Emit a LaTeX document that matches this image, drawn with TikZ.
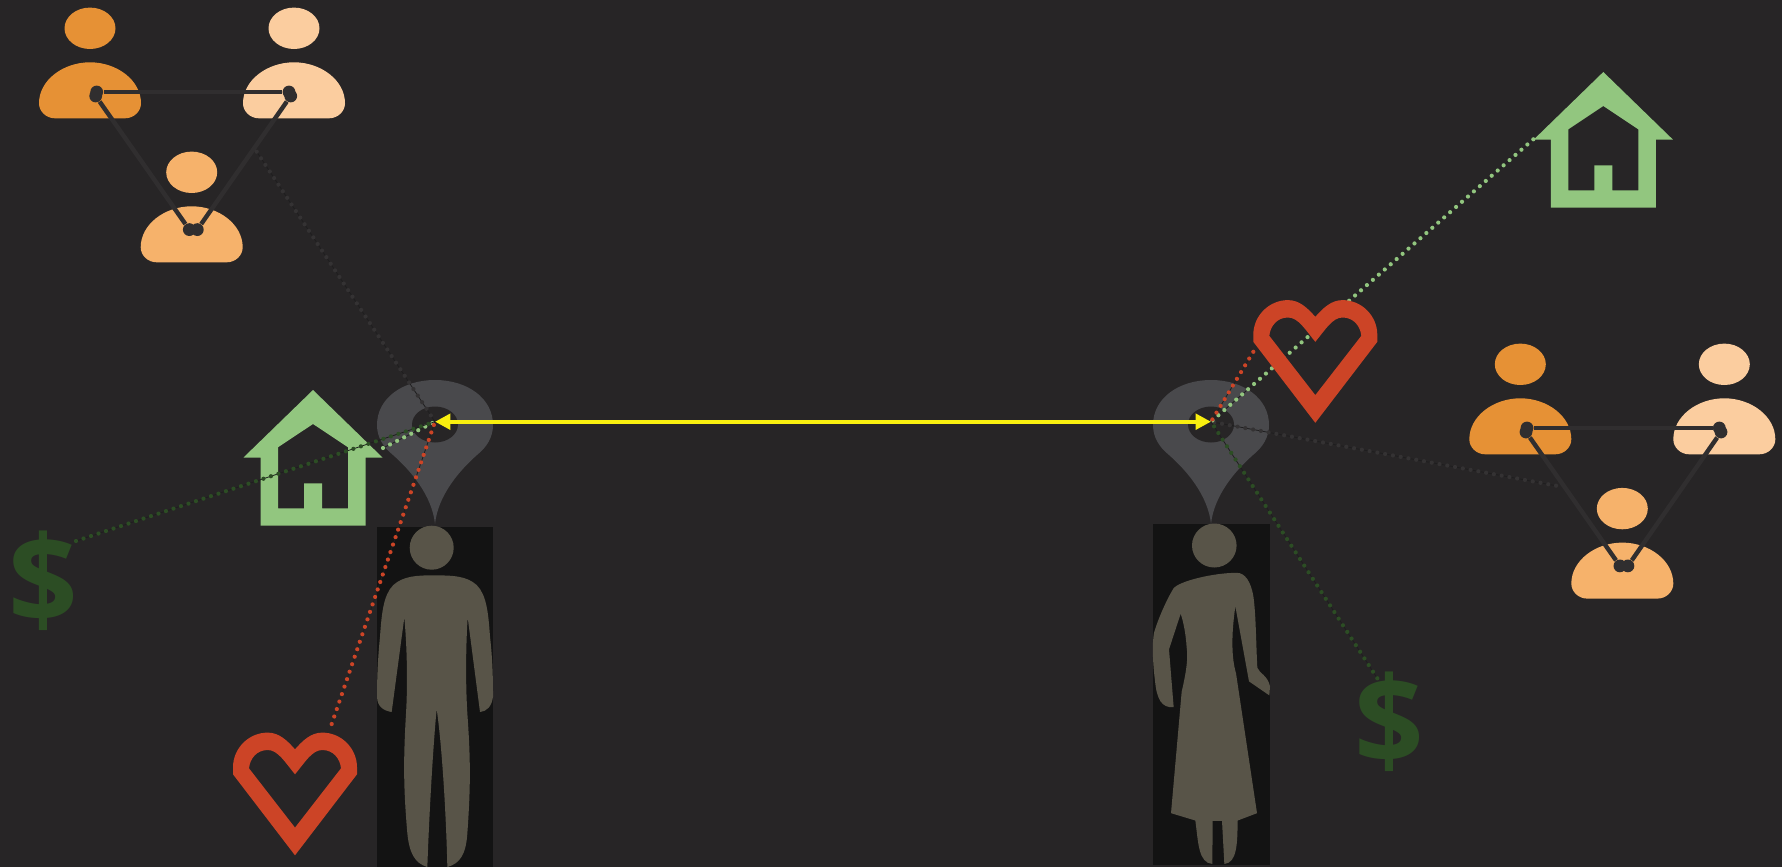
\documentclass[tikz,border=0pt]{standalone}
\usepackage{fontspec}
\newfontfamily\dollarfont{Open Sans}[Scale=1]
\usetikzlibrary{arrows.meta,calc}
\definecolor{bgc}{HTML}{272526}
\definecolor{pinc}{HTML}{49494C}
\definecolor{rectc}{HTML}{131313}
\definecolor{figc}{HTML}{585448}
\definecolor{pa}{HTML}{E69135}
\definecolor{pb}{HTML}{FBCD9F}
\definecolor{pc}{HTML}{F6B26B}
\definecolor{trio}{HTML}{302E2F}
\definecolor{housec}{HTML}{92C67F}
\definecolor{heartc}{HTML}{CC4426}
\definecolor{moneyc}{HTML}{2C4D24}
\definecolor{grayd}{HTML}{343233}
\definecolor{thinc}{HTML}{1F1E1F}
\definecolor{yel}{HTML}{F9EF0F}
\tikzset{
  dotc/.style={draw=#1,line width=2.1pt,line cap=round,dash pattern=on 0pt off 3.95pt,
    preaction={draw=thinc,line width=0.4pt,solid,line cap=butt}},
  triodot/.style={circle,fill=trio,inner sep=0pt,minimum size=6.4pt},
  trioline/.style={draw=trio,line width=2.2pt},
  moneysign/.style={text=moneyc,inner sep=0pt,font=\dollarfont\bfseries\fontsize{61}{61}\selectfont},
  linkarrow/.style={draw=yel,line width=2.2pt,{Triangle[length=7.7pt,width=7.7pt,fill=yel]}-{Triangle[length=7.7pt,width=7.7pt,fill=yel]}}
}
\newcommand{\PersonAt}[3]{%
  \begin{scope}[shift={(#1,#2)}]
    \fill[#3] (0,0) ellipse [x radius=25.5,y radius=20.7];
    \fill[#3] (-51,75) .. controls (-51,52) and (-27,34) .. (0,34)
      .. controls (27,34) and (51,52) .. (51,75)
      .. controls (51,83) and (44,90) .. (35,90) -- (-35,90)
      .. controls (-44,90) and (-51,83) .. (-51,75) -- cycle;
  \end{scope}}
\newcommand{\TrioAt}[7]{% prefix, three head positions
  \PersonAt{#2}{#3}{pa}\PersonAt{#4}{#5}{pb}\PersonAt{#6}{#7}{pc}
  \node[triodot] (#1aa) at ($(#2,#3)+(6.7,63.7)$) {};
  \node[triodot] (#1ab) at ($(#2,#3)+(5.7,67.7)$) {};
  \node[triodot] (#1ba) at ($(#4,#5)+(-5,63.7)$) {};
  \node[triodot] (#1bb) at ($(#4,#5)+(-3.3,67.7)$) {};
  \node[triodot] (#1ca) at ($(#6,#7)+(-2.4,57.3)$) {};
  \node[triodot] (#1cb) at ($(#6,#7)+(5.6,57.3)$) {};
  \draw[trioline] (#1aa) -- (#1ba);
  \draw[trioline] (#1ab) -- (#1ca);
  \draw[trioline] (#1bb) -- (#1cb);}
\newcommand{\HouseAt}[2]{%
  \fill[housec,even odd rule,shift={(#1,#2)}]
    (0,0) -- (69.5,67.5) -- (52.5,67.5) -- (52.5,135.5) -- (-52.5,135.5) -- (-52.5,67.5) -- (-69.5,67.5) -- cycle
    (0,34) -- (35,57.3) -- (35,118.3) -- (9,118.3) -- (9,93.3) -- (-9,93.3) -- (-9,118.3) -- (-35,118.3) -- (-35,57.3) -- cycle;}
\newcommand{\HeartAt}[2]{%
  \fill[heartc,even odd rule,shift={(#1,#2)}]
    (0,0) .. controls (-8,-9) and (-16,-16.7) .. (-27.3,-16.7)
      .. controls (-46.3,-16.7) and (-62,-1) .. (-62,18) -- (-62,25) -- (0,106) -- (62,25) -- (62,18)
      .. controls (62,-1) and (46.3,-16.7) .. (27.3,-16.7)
      .. controls (16,-16.7) and (8,-9) .. (0,0) -- cycle
    (0,25) .. controls (-10,13) and (-17,0.7) .. (-27.3,0.7)
      .. controls (-38,0.7) and (-45,9) .. (-46,19) -- (0,78.3) -- (46,19)
      .. controls (45,9) and (38,0.7) .. (27.3,0.7)
      .. controls (17,0.7) and (10,13) .. (0,25) -- cycle;}
\newcommand{\PinAt}[1]{%
  \fill[pinc,shift={(#1,380)}]
    (0,144) .. controls (3,115) and (25,90) .. (42,75)
      .. controls (52,67) and (58,57) .. (58,45)
      .. controls (58,18) and (32,0) .. (0,0)
      .. controls (-32,0) and (-58,18) .. (-58,45)
      .. controls (-58,57) and (-52,67) .. (-42,75)
      .. controls (-25,90) and (-3,115) .. (0,144) -- cycle;
  \fill[bgc] (#1,424.5) ellipse [x radius=23,y radius=18];}
\begin{document}
\begin{tikzpicture}[x=0.5pt,y=-0.5pt]
\useasboundingbox (0,0) rectangle (1782,867);
\fill[bgc] (0,0) rectangle (1782,867);
% markers
\PinAt{435}
\PinAt{1211}
\coordinate (pinL) at (435,421.7);
\coordinate (pinR) at (1211,421.7);
% figures
\fill[rectc] (377,526.5) rectangle (493,867);
\fill[rectc] (1153,523.5) rectangle (1270,864.5);
\fill[figc] (431.7,547.7) circle [radius=22];
\begin{scope}[shift={(220,360)},x=0.16667pt,y=-0.16667pt]
\fill[figc] (640,646) .. controls (700,646) and (740,648) .. (770,675)
 .. controls (800,705) and (805,760) .. (810,830)
 .. controls (818,900) and (819,960) .. (819,1010)
 .. controls (815,1040) and (800,1054) .. (780,1056) -- (743,772)
 .. controls (738,850) and (736,960) .. (742,1060)
 .. controls (752,1200) and (752,1280) .. (742,1420)
 .. controls (738,1480) and (722,1510) .. (682,1521)
 .. controls (678,1350) and (665,1150) .. (650,1047)
 .. controls (640,1150) and (628,1350) .. (622,1521)
 .. controls (585,1510) and (568,1480) .. (562,1420)
 .. controls (550,1280) and (550,1200) .. (558,1060)
 .. controls (564,960) and (560,850) .. (553,772) -- (515,1056)
 .. controls (490,1052) and (472,1040) .. (471,1010)
 .. controls (471,960) and (473,900) .. (480,830)
 .. controls (485,760) and (490,705) .. (520,675)
 .. controls (550,648) and (590,646) .. (640,646) -- cycle;
\end{scope}
\fill[figc] (1214.3,545.5) ellipse [x radius=22.3,y radius=22];
\begin{scope}[shift={(1130,290.5)},x=0.16667pt,y=-0.18403pt]
\fill[figc] (320,767) .. controls (345,767) and (362,790) .. (370,830)
 .. controls (378,880) and (378,960) .. (382,1025)
 .. controls (388,1040) and (412,1045) .. (420,1075) -- (418,1100) -- (357,1062) -- (316,858)
 .. controls (303,940) and (305,1000) .. (318,1040) -- (381,1420) -- (323,1440)
 .. controls (322,1500) and (322,1555) .. (283,1558) -- (276,1441) -- (248,1441) -- (247,1558)
 .. controls (205,1555) and (205,1500) .. (196,1440) -- (123,1420) -- (155,1090)
 .. controls (168,1040) and (175,1000) .. (170,970)
 .. controls (167,930) and (160,900) .. (152,878) -- (117,975) -- (131,1132)
 .. controls (95,1135) and (80,1110) .. (75,1060)
 .. controls (68,1010) and (66,960) .. (72,930)
 .. controls (85,890) and (110,840) .. (130,810)
 .. controls (145,790) and (250,767) .. (320,767) -- cycle;
\end{scope}
% people
\TrioAt{tl}{90}{28.3}{294}{28.3}{191.7}{172.3}
\TrioAt{tr}{1520.3}{364.3}{1724.3}{364.3}{1622.3}{508.6}
% houses
\HouseAt{313}{390}
\HouseAt{1603.3}{72}
% free connector ends
\coordinate (endLmoney) at (76,541);
\coordinate (endLhouse) at (383,448);
\coordinate (endLheart) at (331.7,724);
\coordinate (endLpeople) at (256.7,151.7);
\coordinate (endRheart) at (1253.3,351.8);
\coordinate (endRhouse) at (1533.3,139.3);
\coordinate (endRpeople) at (1556,485.7);
\coordinate (endRmoney) at (1377.3,678.3);
% dotted connectors
\draw[dotc=grayd] (endLpeople) -- (pinL);
\draw[dotc=housec] (endLhouse) -- (pinL);
\draw[dotc=moneyc] (endLmoney) -- (pinL);
\draw[dotc=heartc] (endLheart) -- (pinL);
\draw[dotc=grayd] (endRpeople) -- (pinR);
\draw[dotc=housec] (endRhouse) -- (pinR);
\draw[dotc=moneyc] (endRmoney) -- (pinR);
\draw[dotc=heartc] (endRheart) -- (pinR);
% hearts and money
\HeartAt{295}{749.3}
\HeartAt{1315.3}{316.8}
\node[moneysign] (moneyL) at (43.5,581) {\$};
\node[moneysign] (moneyR) at (1389.5,721.5) {\$};
% link
\draw[linkarrow] (pinL) -- (pinR);
\end{tikzpicture}
\end{document}
